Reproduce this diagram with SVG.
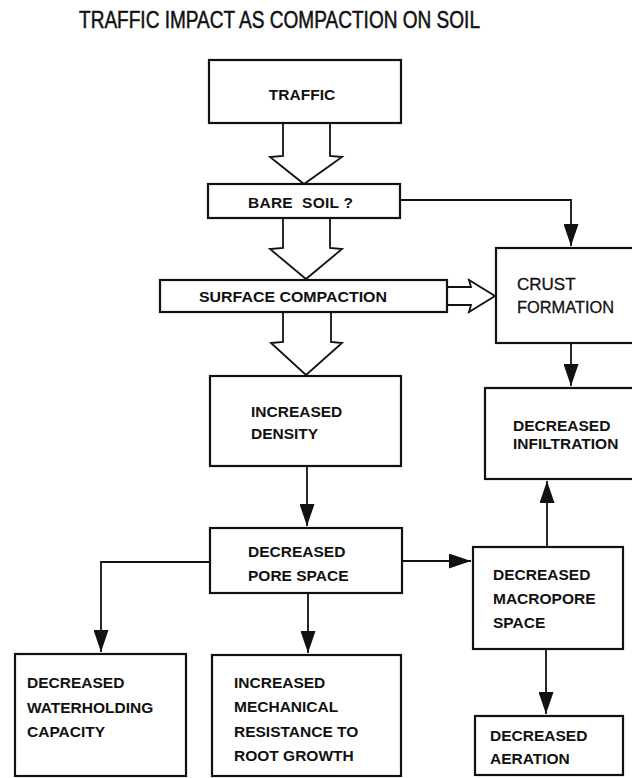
<svg xmlns="http://www.w3.org/2000/svg" width="632" height="778" viewBox="0 0 632 778">
<style>
.box{fill:#fff;stroke:#111;stroke-width:2.2}
.t{font-family:"Liberation Sans",Arial,sans-serif;font-weight:bold;font-size:15.5px;fill:#111}
.tn{font-family:"Liberation Sans",Arial,sans-serif;font-size:17px;fill:#111;stroke:#111;stroke-width:0.3}
.c{fill:none;stroke:#111;stroke-width:1.8}
.h{fill:#fff;stroke:#111;stroke-width:1.8;stroke-linejoin:miter}
</style>
<defs>
<marker id="ah" markerUnits="userSpaceOnUse" markerWidth="22" markerHeight="15" refX="22" refY="7.5" orient="auto">
<path d="M0,0 L22,7.5 L0,15 z" fill="#111"/>
</marker>
</defs>
<rect width="632" height="778" fill="#fff"/>
<text x="79" y="28" font-family="'Liberation Sans',Arial,sans-serif" font-size="23.5" fill="#111" stroke="#111" stroke-width="0.5" textLength="401" lengthAdjust="spacingAndGlyphs">TRAFFIC IMPACT AS COMPACTION ON SOIL</text>

<g id="connectors">
<path class="h" d="M283,124 V156 L270,157 L304,184 L342,157 L330,156 V124"/>
<path class="h" d="M283,219 V248 L270,249 L306,279 L342,249 L330,248 V219"/>
<path class="h" d="M283,313 V342 L271,343 L306,375 L342,343 L331,342 V313"/>
<path class="h" d="M448,287 H471 L469,280 L495,296 L469,312 L471,305 H448"/>
<path class="c" d="M400,200 H571 V246" marker-end="url(#ah)"/>
<path class="c" d="M571,344 V386" marker-end="url(#ah)"/>
<path class="c" d="M307,467 V526" marker-end="url(#ah)"/>
<path class="c" d="M402,561 H471" marker-end="url(#ah)"/>
<path class="c" d="M547,546 V481" marker-end="url(#ah)"/>
<path class="c" d="M210,562 H101 V652" marker-end="url(#ah)"/>
<path class="c" d="M308,594 V653" marker-end="url(#ah)"/>
<path class="c" d="M546,650 V714" marker-end="url(#ah)"/>
</g>

<g id="traffic">
<rect class="box" x="209" y="60" width="192" height="63"/>
<text class="t" x="302" y="100" text-anchor="middle" font-size="15">TRAFFIC</text>
</g>
<g id="bare-soil">
<rect class="box" x="208" y="184" width="192" height="34"/>
<text class="t" x="248" y="207.5" xml:space="preserve" textLength="105">BARE  SOIL ?</text>
</g>
<g id="surface-compaction">
<rect class="box" x="160" y="280" width="287" height="32"/>
<text class="t" x="199" y="302" textLength="188" lengthAdjust="spacingAndGlyphs">SURFACE COMPACTION</text>
</g>
<g id="crust-formation">
<rect class="box" x="496" y="248" width="145" height="95"/>
<text class="tn" x="517" y="290">CRUST</text>
<text class="tn" x="517" y="313" textLength="97" lengthAdjust="spacingAndGlyphs">FORMATION</text>
</g>
<g id="increased-density">
<rect class="box" x="210" y="376" width="191" height="90"/>
<text class="t" x="251" y="417">INCREASED</text>
<text class="t" x="251" y="439">DENSITY</text>
</g>
<g id="decreased-infiltration">
<rect class="box" x="485" y="388" width="156" height="91"/>
<text class="t" x="513" y="431" font-size="13.5">DECREASED</text>
<text class="t" x="513" y="449" font-size="13.5">INFILTRATION</text>
</g>
<g id="decreased-pore-space">
<rect class="box" x="210" y="528" width="192" height="65"/>
<text class="t" x="248" y="557">DECREASED</text>
<text class="t" x="248" y="581">PORE SPACE</text>
</g>
<g id="decreased-macropore-space">
<rect class="box" x="473" y="547" width="150" height="102"/>
<text class="t" x="493" y="580">DECREASED</text>
<text class="t" x="493" y="604">MACROPORE</text>
<text class="t" x="493" y="628">SPACE</text>
</g>
<g id="decreased-waterholding">
<rect class="box" x="15" y="654" width="171" height="122"/>
<text class="t" x="27" y="688">DECREASED</text>
<text class="t" x="27" y="713">WATERHOLDING</text>
<text class="t" x="27" y="737">CAPACITY</text>
</g>
<g id="increased-mechanical-resistance">
<rect class="box" x="212" y="655" width="189" height="121"/>
<text class="t" x="234" y="688">INCREASED</text>
<text class="t" x="234" y="712">MECHANICAL</text>
<text class="t" x="234" y="737">RESISTANCE TO</text>
<text class="t" x="234" y="761">ROOT GROWTH</text>
</g>
<g id="decreased-aeration">
<rect class="box" x="475" y="716" width="148" height="59"/>
<text class="t" x="490" y="741">DECREASED</text>
<text class="t" x="490" y="764">AERATION</text>
</g>
</svg>
